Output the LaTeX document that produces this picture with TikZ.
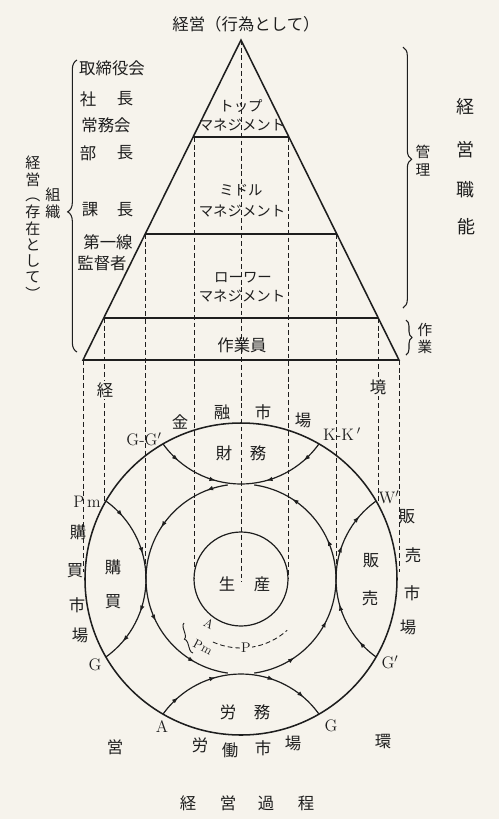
\documentclass[tikz,border=0pt]{standalone}
\usepackage{fontspec}
\newfontfamily\jp{Noto Sans CJK JP}
\usetikzlibrary{arrows.meta,decorations.markings,decorations.pathreplacing,calc}
\definecolor{paper}{RGB}{246,243,236}
\definecolor{ink}{RGB}{30,30,30}
\tikzset{
  jt/.style={font=\jp\fontsize{12.3}{14}\selectfont, inner sep=0pt, text=ink},
  jv/.style={font=\jp\fontsize{11.3}{13}\selectfont, inner sep=0pt, text=ink},
  jk/.style={font=\jp\fontsize{10.8}{13}\selectfont, inner sep=0pt, text=ink},
  js/.style={font=\jp\fontsize{11}{13}\selectfont, inner sep=0pt, text=ink},
  jb/.style={font=\jp\fontsize{13.5}{16}\selectfont, inner sep=0pt, text=ink},
  lt/.style={font=\fontsize{12.5}{14}\selectfont, inner sep=0pt, text=ink},
  ls/.style={font=\fontsize{9.5}{10}\selectfont, inner sep=0pt, text=ink},
  blank/.style={fill=paper, inner sep=1pt},
  dl/.style={draw=ink, line width=0.75pt, dash pattern=on 3.6pt off 2.2pt},
  ml/.style={draw=ink, line width=1.15pt},
  al/.style={color=ink, line width=0.9pt},
  bl/.style={draw=ink, line width=0.8pt, decorate},
  tip/.tip={Latex[length=4.8pt,width=3.4pt]},
  fl/.style 2 args={al, decoration={markings,
      mark=at position #1 with {\arrow{tip}},
      mark=at position #2 with {\arrow{tip}}}, postaction={decorate}},
  flq/.style n args={4}{al, decoration={markings,
      mark=at position #1 with {\arrow{tip}},
      mark=at position #2 with {\arrow{tip}},
      mark=at position #3 with {\arrow{tip}},
      mark=at position #4 with {\arrow{tip}}}, postaction={decorate}},
}
\begin{document}
\begin{tikzpicture}[x=0.75pt,y=-0.75pt]
\fill[paper] (0,0) rectangle (499,819);
\useasboundingbox (0,0) rectangle (499,819);

% ---------- pyramid ----------
\coordinate (apex) at (241,40);
\coordinate (bl) at (83,360);
\coordinate (br) at (399,360);
\draw[ml, line join=miter] (bl) -- (apex) -- (br) -- cycle;
\coordinate (h1l) at (193,137); \coordinate (h1r) at (289,137);
\coordinate (h2l) at (145.2,234); \coordinate (h2r) at (336.8,234);
\coordinate (h3l) at (103.7,318); \coordinate (h3r) at (378.3,318);
\draw[ml] (h1l) -- (h1r);
\draw[ml] (h2l) -- (h2r);
\draw[ml] (h3l) -- (h3r);

% ---------- circles ----------
\coordinate (O) at (241,579);
\draw[ml] (O) circle[radius=156];
\draw[al] (O) circle[radius=47];

% ---------- dashed projections ----------
\coordinate (d0) at (241,582);
\coordinate (d1l) at (194,579); \coordinate (d1r) at (288,579);
\coordinate (d2l) at (145.5,579); \coordinate (d2r) at (336.5,579);
\coordinate (d3l) at (104,504); \coordinate (d3r) at (378,504);
\coordinate (d4l) at (83,572); \coordinate (d4r) at (399,572);
\draw[dl] (apex) -- (d0);
\draw[dl] (194,137) -- (d1l);
\draw[dl] (288,137) -- (d1r);
\draw[dl] (145.5,234) -- (d2l);
\draw[dl] (336.5,234) -- (d2r);
\draw[dl] (104,318) -- (d3l);
\draw[dl] (378,318) -- (d3r);
\draw[dl] (bl) -- (d4l);
\draw[dl] (br) -- (d4r);

% ---------- lens arcs ----------
\coordinate (LT) at (241,388.1);
\coordinate (LL) at (50.1,579);
\coordinate (LR) at (431.9,579);
\coordinate (LB) at (241,769.9);
% finance (top): both halves towards the centre
\draw[fl={0.25}{0.72}] ($(LT)+(144.4:95.9)$) arc[start angle=144.4,end angle=90,radius=95.9];
\draw[fl={0.25}{0.72}] ($(LT)+(35.6:95.9)$) arc[start angle=35.6,end angle=90,radius=95.9];
% purchase (left): Pm -> G
\draw[fl={0.25}{0.72}] ($(LL)+(-54.4:95.9)$) arc[start angle=-54.4,end angle=0,radius=95.9];
\draw[fl={0.37}{0.75}] ($(LL)+(0:95.9)$) arc[start angle=0,end angle=54.4,radius=95.9];
% sales (right): G' -> W'
\draw[fl={0.25}{0.72}] ($(LR)+(125.6:95.9)$) arc[start angle=125.6,end angle=180,radius=95.9];
\draw[fl={0.37}{0.75}] ($(LR)+(180:95.9)$) arc[start angle=180,end angle=234.4,radius=95.9];
% labour (bottom): A -> G
\draw[fl={0.25}{0.72}] ($(LB)+(215.6:95.9)$) arc[start angle=215.6,end angle=270,radius=95.9];
\draw[fl={0.37}{0.75}] ($(LB)+(270:95.9)$) arc[start angle=270,end angle=324.4,radius=95.9];
% inner circulation
\draw[flq={0.08}{0.3}{0.66}{0.87}] ($(O)+(262:95)$) arc[start angle=262,end angle=98,radius=95];
\draw[flq={0.16}{0.34}{0.65}{0.85}] ($(O)+(82:95)$) arc[start angle=82,end angle=-82,radius=95];

% small dashed arc A,Pm ... P
\draw[dl, line width=0.65pt] ($(O)+(114:69)$) arc[start angle=114,end angle=48,radius=69];
\node[ls, blank, font=\fontsize{10.5}{12}\selectfont] (P) at (246,648) {P};
\coordinate (brA) at (193,653);
\coordinate (brB) at (184,623);
\draw[draw=ink, line width=0.7pt, decorate, decoration={brace, amplitude=3.2pt}] (brA) -- (brB);
\node[ls, rotate=-28] (sA) at (209,624) {A};
\node[ls, rotate=-28] (sPm) at (203,647) {P\kern0.5pt m};

% ---------- braces ----------
\draw[bl, decoration={brace, amplitude=7pt, aspect=0.48}] (77,352) -- (77,60);
\draw[bl, decoration={brace, amplitude=6.5pt, aspect=0.43}] (403,47) -- (403,308);
\draw[bl, decoration={brace, amplitude=4.5pt, aspect=0.5}] (406,320) -- (406,355);

% ---------- texts ----------
\node[jt] (t0) at (246,24) {経営（行為として）};

\node[jt] (l1) at (112,68) {取締役会};
\node[jt] (l2a) at (88,99) {社}; \node[jt] (l2b) at (125,99) {長};
\node[jt] (l3) at (106,125) {常務会};
\node[jt] (l4a) at (88,153) {部}; \node[jt] (l4b) at (125,153) {長};
\node[jt] (l5a) at (90,210) {課}; \node[jt] (l5b) at (125,210) {長};
\node[jt] (l6) at (108,242) {第一線};
\node[jt] (l7) at (102,263) {監督者};

\node[jv] (v1) at (33,163) {経};
\node[jv] (v2) at (33,179.5) {営};
\node[jv, rotate=-90] (v3) at (33,195.5) {（};
\node[jv] (v4) at (33,212) {存};
\node[jv] (v5) at (33,228.5) {在};
\node[jv] (v6) at (33,245) {と};
\node[jv] (v7) at (33,261) {し};
\node[jv] (v8) at (33,277.5) {て};
\node[jv, rotate=-90] (v9) at (33,294) {）};
\node[jv] (o1) at (53,195) {組};
\node[jv] (o2) at (53,212) {織};

\node[jk] (k1) at (241,106) {トップ};
\node[jk] (k2) at (242,125) {マネジメント};
\node[jk] (k3) at (241,190) {ミドル};
\node[jk] (k4) at (242,211) {マネジメント};
\node[jk] (k5) at (243,278) {ローワー};
\node[jk] (k6) at (242,296) {マネジメント};
\node[jt] (k7) at (242,345) {作業員};

\node[js] (r1) at (423,152) {管};
\node[js] (r2) at (423,170) {理};
\node[js] (r3) at (425,330) {作};
\node[js] (r4) at (425,347) {業};
\node[jb] (f1) at (465,107) {経};
\node[jb] (f2) at (465,150) {営};
\node[jb] (f3) at (465,190) {職};
\node[jb] (f4) at (466,227) {能};

\node[jt, blank] (e1) at (105,390) {経};
\node[jt, blank] (e2) at (378,387) {境};
\node[jt] (e3) at (115,747) {営};
\node[jt] (e4) at (383,742) {環};

\node[jt] (m1) at (180,422) {金};
\node[jt] (m2) at (222,412) {融};
\node[jt] (m3) at (263,412) {市};
\node[jt] (m4) at (303,420) {場};
\node[jt] (z1) at (224,453) {財};
\node[jt] (z2) at (258,453) {務};
\node[jt] (s1) at (227,584) {生};
\node[jt] (s2) at (262,584) {産};
\node[jt] (p1) at (113,567) {購};
\node[jt] (p2) at (113,602) {買};
\node[jt] (h1) at (371,561) {販};
\node[jt] (h2) at (370,598) {売};
\node[jt] (q1) at (78,532) {購};
\node[jt] (q2) at (75,571) {買};
\node[jt] (q3) at (77,605) {市};
\node[jt] (q4) at (80,635) {場};
\node[jt] (w1) at (407,517) {販};
\node[jt] (w2) at (413,555) {売};
\node[jt] (w3) at (412,593) {市};
\node[jt] (w4) at (408,627) {場};
\node[jt] (a1) at (228,712) {労};
\node[jt] (a2) at (262,712) {務};
\node[jt] (b1) at (200,745) {労};
\node[jt] (b2) at (230,750) {働};
\node[jt] (b3) at (263,748) {市};
\node[jt] (b4) at (293,743) {場};
\node[jt] (c1) at (188,803) {経};
\node[jt] (c2) at (228,803) {営};
\node[jt] (c3) at (266,803) {過};
\node[jt] (c4) at (306,803) {程};

\node[lt] (gg) at (144,439) {G-G$'$};
\node[lt] (kk) at (342,434) {K-K\,$'$};
\node[lt] (pm) at (87,502) {P\,m};
\node[lt] (gl) at (95,665) {G};
\node[lt] (la) at (162,727) {A};
\node[lt] (gr) at (331,726) {G};
\node[lt] (gp) at (390,662) {G$'$};
\node[lt] (wp) at (389,497) {W$'$};
\end{tikzpicture}
\end{document}
